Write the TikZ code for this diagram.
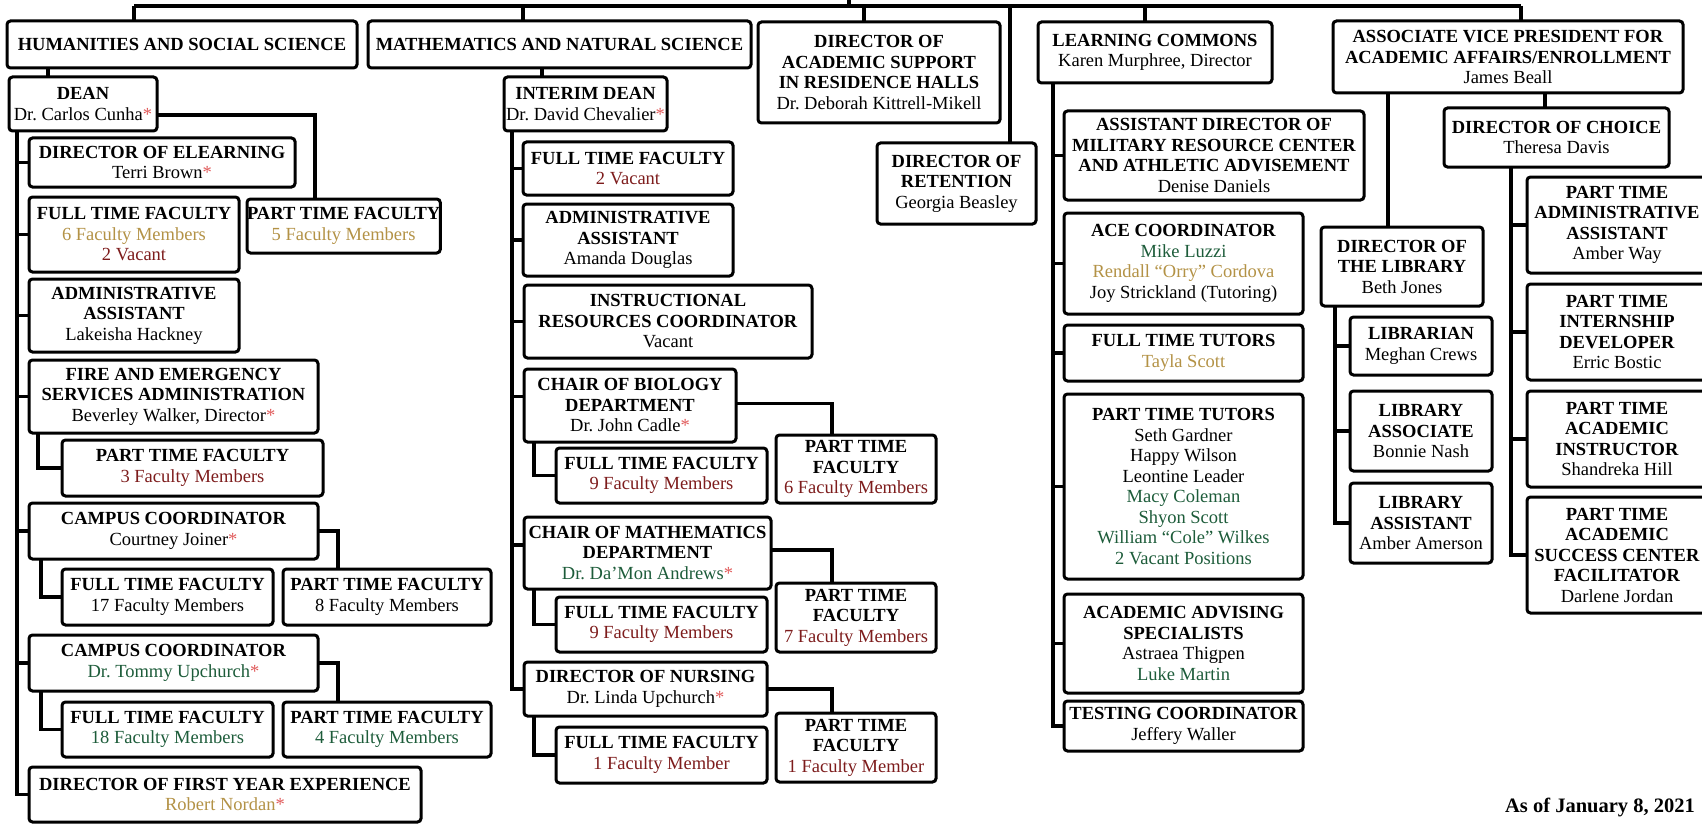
\documentclass[tikz,border=0pt]{standalone}
\usepackage{fontspec}
\setmainfont{Liberation Serif}
\frenchspacing

\definecolor{gold}{HTML}{B39246}
\definecolor{maroon}{HTML}{7D1C1C}
\definecolor{pine}{HTML}{1D5C3A}
\definecolor{starred}{HTML}{E05A5A}

\newcommand{\st}{\textcolor{starred}{*}}
\newcommand{\hd}[1]{\textbf{#1}}
\tikzset{sz/.style 2 args={minimum width=#1pt,minimum height=#2pt},
         wire/.style={line width=3.6pt}}

\begin{document}
\begin{tikzpicture}[x=1pt,y=-1pt]
        \tikzstyle{orgbox}=[draw, line width=3pt, rounded corners=3.5pt, align=center, inner sep=0pt, outer sep=0pt, anchor=north west, font=\fontsize{18.5}{20.5}\selectfont]

        \useasboundingbox (0,0) rectangle (1702,824);
        \clip (0,0) rectangle (1702,824);

        % top row
        \node[orgbox, sz={350}{47}]  (hss) at (7,21)     {\hd{HUMANITIES AND SOCIAL SCIENCE}};
        \node[orgbox, sz={383}{47}]  (mns) at (368,21)   {\hd{MATHEMATICS AND NATURAL SCIENCE}};
        \node[orgbox, sz={242}{101}] (das) at (758,22)   {\hd{DIRECTOR OF}\\\hd{ACADEMIC SUPPORT}\\\hd{IN RESIDENCE HALLS}\\Dr. Deborah Kittrell-Mikell};
        \node[orgbox, sz={159}{81}]  (ret) at (877,143)  {\hd{DIRECTOR OF}\\\hd{RETENTION}\\Georgia Beasley};
        \node[orgbox, sz={234}{61}]  (lc)  at (1038,22)  {\hd{LEARNING COMMONS}\\Karen Murphree, Director};
        \node[orgbox, sz={350}{72}]  (avp) at (1333,21)  {\hd{ASSOCIATE VICE PRESIDENT FOR}\\\hd{ACADEMIC AFFAIRS/ENROLLMENT}\\James Beall};

        % humanities and social science
        \node[orgbox, sz={148}{54}]  (dean)   at (9,77)    {\hd{DEAN}\\Dr. Carlos Cunha\st};
        \node[orgbox, sz={266}{49}]  (elearn) at (29,138)  {\hd{DIRECTOR OF ELEARNING}\\Terri Brown\st};
        \node[orgbox, sz={210}{75}]  (ftfA)   at (29,197)  {\hd{FULL TIME FACULTY}\\\textcolor{gold}{6 Faculty Members}\\\textcolor{maroon}{2 Vacant}};
        \node[orgbox, sz={187}{54}]  (ptfA)   at (247,199) {\hd{PART TIME FACULTY}\\\textcolor{gold}{5 Faculty Members}};
        \node[orgbox, sz={210}{73}]  (aaA)    at (29,279)  {\hd{ADMINISTRATIVE}\\\hd{ASSISTANT}\\Lakeisha Hackney};
        \node[orgbox, sz={289}{73}]  (fire)   at (29,360)  {\hd{FIRE AND EMERGENCY}\\\hd{SERVICES ADMINISTRATION}\\Beverley Walker, Director\st};
        \node[orgbox, sz={261}{56}]  (ptfB)   at (62,440)  {\hd{PART TIME FACULTY}\\\textcolor{maroon}{3 Faculty Members}};
        \node[orgbox, sz={289}{56}]  (ccA)    at (29,503)  {\hd{CAMPUS COORDINATOR}\\Courtney Joiner\st};
        \node[orgbox, sz={211}{56}]  (ftfC)   at (62,569)  {\hd{FULL TIME FACULTY}\\17 Faculty Members};
        \node[orgbox, sz={208}{56}]  (ptfC)   at (283,569) {\hd{PART TIME FACULTY}\\8 Faculty Members};
        \node[orgbox, sz={289}{56}]  (ccB)    at (29,635)  {\hd{CAMPUS COORDINATOR}\\\textcolor{pine}{Dr. Tommy Upchurch}\st};
        \node[orgbox, sz={211}{55}]  (ftfD)   at (62,702)  {\hd{FULL TIME FACULTY}\\\textcolor{pine}{18 Faculty Members}};
        \node[orgbox, sz={208}{55}]  (ptfD)   at (283,702) {\hd{PART TIME FACULTY}\\\textcolor{pine}{4 Faculty Members}};
        \node[orgbox, sz={392}{55}]  (fye)    at (29,767)  {\hd{DIRECTOR OF FIRST YEAR EXPERIENCE}\\\textcolor{gold}{Robert Nordan}\st};

        % mathematics and natural science
        \node[orgbox, sz={163}{54}]  (idean) at (504,77)  {\hd{INTERIM DEAN}\\Dr. David Chevalier\st};
        \node[orgbox, sz={210}{53}]  (ftfE)  at (523,142) {\hd{FULL TIME FACULTY}\\\textcolor{maroon}{2 Vacant}};
        \node[orgbox, sz={210}{72}]  (aaB)   at (523,204) {\hd{ADMINISTRATIVE}\\\hd{ASSISTANT}\\Amanda Douglas};
        \node[orgbox, sz={288}{73}]  (irc)   at (524,285) {\hd{INSTRUCTIONAL}\\\hd{RESOURCES COORDINATOR}\\Vacant};
        \node[orgbox, sz={212}{73}]  (bio)   at (524,369) {\hd{CHAIR OF BIOLOGY}\\\hd{DEPARTMENT}\\Dr. John Cadle\st};
        \node[orgbox, sz={211}{55}]  (ftfF)  at (556,448) {\hd{FULL TIME FACULTY}\\\textcolor{maroon}{9 Faculty Members}};
        \node[orgbox, sz={160}{68}]  (ptfF)  at (776,435) {\hd{PART TIME}\\\hd{FACULTY}\\\textcolor{maroon}{6 Faculty Members}};
        \node[orgbox, sz={247}{72}]  (math)  at (524,517) {\hd{CHAIR OF MATHEMATICS}\\\hd{DEPARTMENT}\\\textcolor{pine}{Dr. Da’Mon Andrews}\st};
        \node[orgbox, sz={211}{55}]  (ftfG)  at (556,597) {\hd{FULL TIME FACULTY}\\\textcolor{maroon}{9 Faculty Members}};
        \node[orgbox, sz={160}{69}]  (ptfG)  at (776,583) {\hd{PART TIME}\\\hd{FACULTY}\\\textcolor{maroon}{7 Faculty Members}};
        \node[orgbox, sz={243}{54}]  (nurse) at (524,662) {\hd{DIRECTOR OF NURSING}\\Dr. Linda Upchurch\st};
        \node[orgbox, sz={211}{56}]  (ftfH)  at (556,727) {\hd{FULL TIME FACULTY}\\\textcolor{maroon}{1 Faculty Member}};
        \node[orgbox, sz={160}{69}]  (ptfH)  at (776,713) {\hd{PART TIME}\\\hd{FACULTY}\\\textcolor{maroon}{1 Faculty Member}};

        % learning commons
        \node[orgbox, sz={300}{89}]  (mil)  at (1064,111) {\hd{ASSISTANT DIRECTOR OF}\\\hd{MILITARY RESOURCE CENTER}\\\hd{AND ATHLETIC ADVISEMENT}\\Denise Daniels};
        \node[orgbox, sz={239}{101}] (ace)  at (1064,213) {\hd{ACE COORDINATOR}\\\textcolor{pine}{Mike Luzzi}\\\textcolor{gold}{Rendall “Orry” Cordova}\\Joy Strickland (Tutoring)};
        \node[orgbox, sz={239}{56}]  (ftt)  at (1064,325) {\hd{FULL TIME TUTORS}\\\textcolor{gold}{Tayla Scott}};
        \node[orgbox, sz={239}{185}] (ptt)  at (1064,394) {\hd{PART TIME TUTORS}\\Seth Gardner\\Happy Wilson\\Leontine Leader\\\textcolor{pine}{Macy Coleman}\\\textcolor{pine}{Shyon Scott}\\\textcolor{pine}{William “Cole” Wilkes}\\\textcolor{pine}{2 Vacant Positions}};
        \node[orgbox, sz={239}{99}]  (adv)  at (1064,594) {\hd{ACADEMIC ADVISING}\\\hd{SPECIALISTS}\\Astraea Thigpen\\\textcolor{pine}{Luke Martin}};
        \node[orgbox, sz={239}{50}]  (test) at (1064,701) {\hd{TESTING COORDINATOR}\\Jeffery Waller};

        % associate vice president
        \node[orgbox, sz={162}{79}]  (lib)    at (1321,227) {\hd{DIRECTOR OF}\\\hd{THE LIBRARY}\\Beth Jones};
        \node[orgbox, sz={142}{58}]  (libA)   at (1350,317) {\hd{LIBRARIAN}\\Meghan Crews};
        \node[orgbox, sz={142}{80}]  (libB)   at (1350,391) {\hd{LIBRARY}\\\hd{ASSOCIATE}\\Bonnie Nash};
        \node[orgbox, sz={142}{80}]  (libC)   at (1350,483) {\hd{LIBRARY}\\\hd{ASSISTANT}\\Amber Amerson};
        \node[orgbox, sz={225}{59}]  (choice) at (1444,108) {\hd{DIRECTOR OF CHOICE}\\Theresa Davis};
        \node[orgbox, sz={180}{96}]  (ptA)    at (1527,177) {\hd{PART TIME}\\\hd{ADMINISTRATIVE}\\\hd{ASSISTANT}\\Amber Way};
        \node[orgbox, sz={180}{96}]  (ptB)    at (1527,284) {\hd{PART TIME}\\\hd{INTERNSHIP}\\\hd{DEVELOPER}\\Erric Bostic};
        \node[orgbox, sz={180}{96}]  (ptC)    at (1527,391) {\hd{PART TIME}\\\hd{ACADEMIC}\\\hd{INSTRUCTOR}\\Shandreka Hill};
        \node[orgbox, sz={180}{116}] (ptD)    at (1527,497) {\hd{PART TIME}\\\hd{ACADEMIC}\\\hd{SUCCESS CENTER}\\\hd{FACILITATOR}\\Darlene Jordan};

        \node[anchor=base east, inner sep=0pt, font=\bfseries\fontsize{20.5}{22}\selectfont] (asof) at (1695,812) {As of January 8, 2021};

        % top bar
        \coordinate (root) at (849,0);
        \coordinate (dHSS) at (134,6);
        \coordinate (dMNS) at (523,6);
        \coordinate (dDAS) at (864,6);
        \coordinate (dRET) at (1010,6);
        \coordinate (dLC)  at (1145,6);
        \coordinate (dAVP) at (1521,6);
        \draw[wire] (dHSS) -- (dAVP);
        \draw[wire] (root) -- (root |- dHSS);
        \foreach \d/\n in {dHSS/hss, dMNS/mns, dDAS/das, dRET/ret, dLC/lc, dAVP/avp}
            \draw[wire] (\d) -- (\d |- \n.north);

        % humanities links
        \coordinate (tDean) at ([xshift=39pt]dean.north west);
        \draw[wire] (tDean) -- (tDean |- hss.south);
        \coordinate (sDean) at ([xshift=8pt]dean.south west);
        \foreach \c in {elearn, ftfA, aaA, fire, ccA, ccB, fye}
            \draw[wire] (sDean) |- (\c.west);
        \draw[wire] ([yshift=-11pt]dean.east) -| ([xshift=68pt]ptfA.north west);
        \draw[wire] ([xshift=9pt]fire.south west) |- (ptfB.west);
        \draw[wire] ([xshift=12pt]ccA.south west) |- (ftfC.west);
        \draw[wire] (ccA.east) -| ([xshift=55pt]ptfC.north west);
        \draw[wire] ([xshift=12pt]ccB.south west) |- (ftfD.west);
        \draw[wire] (ccB.east) -| ([xshift=55pt]ptfD.north west);

        % mathematics links
        \coordinate (tIdean) at ([xshift=38pt]idean.north west);
        \draw[wire] (tIdean) -- (tIdean |- mns.south);
        \coordinate (sIdean) at ([xshift=8pt]idean.south west);
        \draw[wire] (sIdean) |- (ftfE.west);
        \draw[wire] (sIdean) |- (aaB.west);
        \draw[wire] (sIdean) |- (irc.west);
        \draw[wire] (sIdean) |- ([yshift=9pt]bio.west);
        \draw[wire] (sIdean) |- ([yshift=8pt]math.west);
        \draw[wire] (sIdean) |- (nurse.west);
        \draw[wire] ([xshift=10pt]bio.south west) |- (ftfF.west);
        \draw[wire] ([yshift=2pt]bio.east) -| ([xshift=56pt]ptfF.north west);
        \draw[wire] ([xshift=10pt]math.south west) |- (ftfG.west);
        \draw[wire] ([yshift=3pt]math.east) -| ([xshift=56pt]ptfG.north west);
        \draw[wire] ([xshift=10pt]nurse.south west) |- (ftfH.west);
        \draw[wire] (nurse.east) -| ([xshift=56pt]ptfH.north west);

        % learning commons links
        \coordinate (sLc) at ([xshift=15pt]lc.south west);
        \foreach \c in {mil, ace, ftt, ptt, adv, test}
            \draw[wire] (sLc) |- (\c.west);

        % associate vice president links
        \coordinate (tLib) at ([xshift=67pt]lib.north west);
        \draw[wire] (tLib) -- (tLib |- avp.south);
        \coordinate (tChoice) at ([xshift=101pt]choice.north west);
        \draw[wire] (tChoice) -- (tChoice |- avp.south);
        \coordinate (sLib) at ([xshift=14pt]lib.south west);
        \foreach \c in {libA, libB, libC}
            \draw[wire] (sLib) |- (\c.west);
        \coordinate (sChoice) at ([xshift=67pt]choice.south west);
        \foreach \c in {ptA, ptB, ptC, ptD}
            \draw[wire] (sChoice) |- (\c.west);
\end{tikzpicture}
\end{document}
